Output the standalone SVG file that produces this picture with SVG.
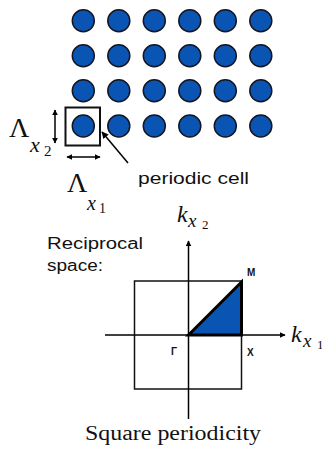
<svg xmlns="http://www.w3.org/2000/svg" width="322" height="458" viewBox="0 0 322 458">
<style>
.dot{fill:#0a55b4;stroke:#15151f;stroke-width:1.5}
.ln{stroke:#000;stroke-width:1.5;fill:none}
.sans{font-family:"Liberation Sans",Arial,sans-serif;fill:#111}
.ser{font-family:"Liberation Serif","Times New Roman",serif;fill:#111}
.it{font-style:italic}
.lbl{font-family:"Liberation Sans",Arial,sans-serif;font-weight:bold;font-size:10px;fill:#111}
</style>
<defs>
<marker id="ah" viewBox="0 0 10 10" refX="9" refY="5" markerWidth="6" markerHeight="6" orient="auto-start-reverse" markerUnits="userSpaceOnUse">
<path d="M0,0 L10,5 L0,10 Z" fill="#000"/>
</marker>
<marker id="ah2" viewBox="0 0 10 10" refX="9" refY="5" markerWidth="7" markerHeight="7" orient="auto" markerUnits="userSpaceOnUse">
<path d="M0,0 L10,5 L0,10 Z" fill="#000"/>
</marker>
</defs>
<g id="lattice">
<circle class="dot" cx="83.3" cy="20.7" r="11"/><circle class="dot" cx="118.8" cy="20.7" r="11"/><circle class="dot" cx="154.3" cy="20.7" r="11"/><circle class="dot" cx="189.8" cy="20.7" r="11"/><circle class="dot" cx="225.3" cy="20.7" r="11"/><circle class="dot" cx="260.8" cy="20.7" r="11"/>
<circle class="dot" cx="83.3" cy="55.7" r="11"/><circle class="dot" cx="118.8" cy="55.7" r="11"/><circle class="dot" cx="154.3" cy="55.7" r="11"/><circle class="dot" cx="189.8" cy="55.7" r="11"/><circle class="dot" cx="225.3" cy="55.7" r="11"/><circle class="dot" cx="260.8" cy="55.7" r="11"/>
<circle class="dot" cx="83.3" cy="90.7" r="11"/><circle class="dot" cx="118.8" cy="90.7" r="11"/><circle class="dot" cx="154.3" cy="90.7" r="11"/><circle class="dot" cx="189.8" cy="90.7" r="11"/><circle class="dot" cx="225.3" cy="90.7" r="11"/><circle class="dot" cx="260.8" cy="90.7" r="11"/>
<circle class="dot" cx="83.3" cy="126" r="11"/><circle class="dot" cx="118.8" cy="126" r="11"/><circle class="dot" cx="154.3" cy="126" r="11"/><circle class="dot" cx="189.8" cy="126" r="11"/><circle class="dot" cx="225.3" cy="126" r="11"/><circle class="dot" cx="260.8" cy="126" r="11"/>
</g>
<g id="periodic-cell">
<rect x="65.5" y="107.5" width="34.5" height="38" fill="none" stroke="#111" stroke-width="2"/>
</g>
<g id="connectors">
<line class="ln" x1="55" y1="110" x2="55" y2="143" marker-start="url(#ah)" marker-end="url(#ah)"/>
<line class="ln" x1="67" y1="157" x2="100" y2="157" marker-start="url(#ah)" marker-end="url(#ah)"/>
<line class="ln" x1="128" y1="163" x2="102" y2="132" stroke-width="2" marker-end="url(#ah2)"/>
</g>
<g id="labels-real">
<text class="ser" x="9" y="137" font-size="28">Λ</text>
<text class="ser it" x="30" y="152" font-size="22">x</text>
<text class="ser" x="44" y="156" font-size="15">2</text>
<text class="ser" x="67" y="192" font-size="28">Λ</text>
<text class="ser it" x="87" y="210" font-size="20">x</text>
<text class="ser" x="99" y="213" font-size="14">1</text>
<text class="sans" x="138" y="184" font-size="16" textLength="111" lengthAdjust="spacingAndGlyphs">periodic cell</text>
</g>
<g id="reciprocal">
<text class="sans" x="47" y="248.5" font-size="16" textLength="96" lengthAdjust="spacingAndGlyphs">Reciprocal</text>
<text class="sans" x="47" y="271" font-size="16" textLength="56" lengthAdjust="spacingAndGlyphs">space:</text>
<rect x="134.5" y="281" width="107" height="108" fill="none" stroke="#111" stroke-width="1.5"/>
<line class="ln" x1="188.5" y1="419" x2="188.5" y2="241" marker-end="url(#ah)"/>
<line class="ln" x1="105" y1="335" x2="285" y2="335" marker-end="url(#ah)"/>
<polygon points="188.5,335 241.5,282 241.5,335" fill="#0a55b4" stroke="#000" stroke-width="3" stroke-linejoin="miter"/>
<text class="lbl" x="247" y="276">M</text>
<text class="lbl" x="171" y="355">Γ</text>
<text class="lbl" x="247" y="356">X</text>
<text class="ser it" x="177" y="222" font-size="24">k</text>
<text class="ser it" x="188" y="227" font-size="19">x</text>
<text class="ser" x="202" y="229" font-size="13">2</text>
<text class="ser it" x="291" y="342" font-size="24">k</text>
<text class="ser it" x="303" y="347" font-size="19">x</text>
<text class="ser" x="317" y="349" font-size="13">1</text>
<text class="ser" x="85" y="440" font-size="20" textLength="176" lengthAdjust="spacingAndGlyphs">Square periodicity</text>
</g>
</svg>
